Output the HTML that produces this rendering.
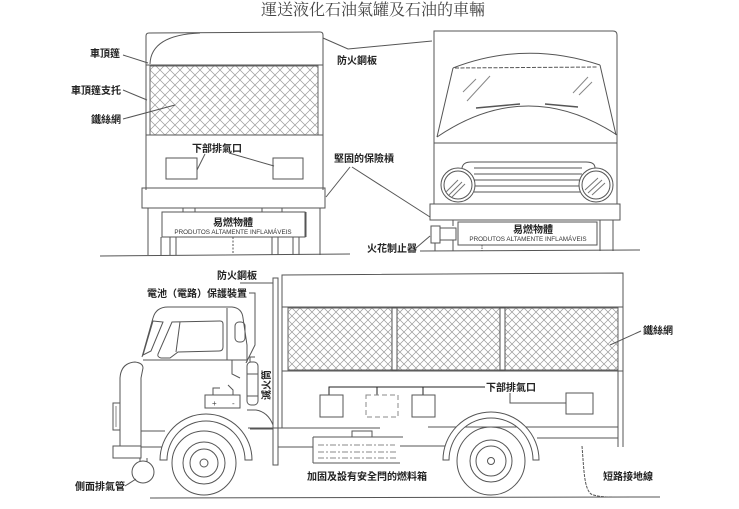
<!DOCTYPE html>
<html><head><meta charset="utf-8"><style>
html,body{margin:0;padding:0;background:#fff;}
svg{display:block;}
.l{fill:none;stroke:#555;stroke-width:1;}
.t{font-family:"Liberation Sans","Noto Sans CJK TC",sans-serif;font-weight:bold;font-size:10px;fill:#222;}
.s{font-family:"Liberation Sans",sans-serif;font-size:6.3px;fill:#333;}
</style></head><body>
<svg width="739" height="509" viewBox="0 0 739 509" xmlns="http://www.w3.org/2000/svg">
<defs>
<pattern id="m" width="10" height="10" patternUnits="userSpaceOnUse">
<path d="M0,0 L10,10 M10,0 L0,10 M-2,8 L2,12 M8,-2 L12,2 M-2,2 L2,-2 M8,12 L12,8" stroke="#9a9a9a" stroke-width="0.7" fill="none"/>
</pattern>
<pattern id="m2" width="8" height="8" patternUnits="userSpaceOnUse">
<path d="M0,0 L8,8 M8,0 L0,8 M-2,6 L2,10 M6,-2 L10,2 M-2,2 L2,-2 M6,10 L10,6" stroke="#9a9a9a" stroke-width="0.7" fill="none"/>
</pattern>
</defs>
<rect width="739" height="509" fill="#fff"/>

<!-- Title -->
<text x="373" y="15" text-anchor="middle" font-family="'Noto Serif CJK SC','Noto Serif CJK TC',serif" font-size="16" fill="#444">運送液化石油氣罐及石油的車輛</text>

<!-- ============ LEFT REAR VIEW ============ -->
<g class="l">
<path d="M146,190 L146,36 Q146,33 149,33 L320,32 Q323,32 323,35 L323,190"/>
<path d="M150,64 Q151,35 200,33"/>
<line x1="146" y1="65" x2="323" y2="65"/>
<rect x="150" y="66" width="168" height="69" fill="url(#m)" stroke="#666"/>
<line x1="146" y1="135" x2="323" y2="135"/>
<rect x="166" y="158" width="31" height="21"/>
<rect x="273" y="158" width="30" height="21"/>
<line x1="205" y1="154" x2="197" y2="170"/>
<line x1="229" y1="153" x2="274" y2="166"/>
<rect x="142" y="188" width="183" height="20"/>
<rect x="183" y="208" width="12" height="4"/>
<rect x="262" y="208" width="20" height="4"/>
<rect x="162" y="212" width="143" height="25"/>
<path d="M148,208 V255 M161,237 V255 M170,237 V255 M176,237 V255 M272,237 V255 M278,237 V255 M293,237 V255 M299,237 V255 M320,208 V255 M306,212 V237"/>
<line x1="233" y1="237" x2="233" y2="255" stroke-dasharray="2,1.5"/>
<line x1="100" y1="256" x2="350" y2="254"/>
<!-- leaders -->
<line x1="123" y1="55" x2="148" y2="63"/>
<line x1="123" y1="90" x2="147" y2="100"/>
<line x1="123" y1="119" x2="175" y2="105"/>
<polyline points="323,38 348,49 432,41"/>
<line x1="350" y1="167" x2="326" y2="197"/>
<line x1="352" y1="167" x2="430" y2="217"/>
</g>
<text class="t" x="120" y="57" text-anchor="end">車頂篷</text>
<text class="t" x="121" y="94" text-anchor="end">車頂篷支托</text>
<text class="t" x="121" y="123" text-anchor="end">鐵絲網</text>
<text class="t" x="217" y="152" text-anchor="middle">下部排氣口</text>
<text class="t" x="233" y="226" text-anchor="middle">易燃物體</text>
<text class="s" x="233" y="234" text-anchor="middle">PRODUTOS ALTAMENTE INFLAMÁVEIS</text>
<text class="t" x="337" y="64">防火鋼板</text>
<text class="t" x="334" y="162">堅固的保險槓</text>

<!-- ============ RIGHT FRONT VIEW ============ -->
<g class="l">
<path d="M434,204 L434,31 L613,31 Q617,31 617,35 L617,204"/>
<path d="M453,68 Q525,40 600,65"/>
<line x1="455" y1="68" x2="598" y2="67" stroke-dasharray="4,1.5"/>
<line x1="453" y1="68" x2="437" y2="137"/>
<line x1="600" y1="65" x2="616" y2="135"/>
<path d="M437,137 Q527,76 617,135"/>
<line x1="434" y1="143" x2="617" y2="143"/>
<path d="M476,108 L520,104 M545,104 L578,107" stroke-width="1.4"/>
<path d="M463,92 L476,79 M467,101 L490,76 M573,93 L588,77 M579,95 L592,82" stroke="#888"/>
<path d="M462,193 L462,168 Q463,162 471,162 L586,162 Q595,162 595,168 L595,193"/>
<path d="M474,168 H582 M474,174 H582 M474,180 H582 M474,186 H582 M474,192 H582"/>
<circle cx="458" cy="185" r="17" fill="#fff"/>
<circle cx="458" cy="185" r="14"/>
<circle cx="596" cy="185" r="17" fill="#fff"/>
<circle cx="596" cy="185" r="14"/>
<path d="M446,192 L458,180 M449,195 L462,182 M452,197 L465,184" stroke="#777"/>
<path d="M585,190 L598,178 M588,193 L602,180 M592,195 L605,183" stroke="#777"/>
<rect x="430" y="204" width="190" height="16"/>
<rect x="458" y="222" width="139" height="23"/>
<rect x="431" y="226" width="9" height="17"/>
<rect x="440" y="228" width="16" height="12"/>
<path d="M435,243 V251 M453,240 V251 M453,220 V226 M600,220 V251 M613,220 V251"/>
<line x1="482" y1="245" x2="482" y2="251" stroke-dasharray="1.5,1"/>
<line x1="420" y1="251" x2="640" y2="250"/>
<line x1="416" y1="248" x2="430" y2="236"/>
</g>
<text class="t" x="533" y="233" text-anchor="middle">易燃物體</text>
<text class="s" x="528" y="241" text-anchor="middle">PRODUTOS ALTAMENTE INFLAMÁVEIS</text>
<text class="t" x="367" y="252">火花制止器</text>

<!-- ============ SIDE VIEW ============ -->
<g class="l">
<rect x="273" y="278" width="5" height="187"/>
<line x1="240" y1="283" x2="273" y2="283"/>
<polyline points="249,293 255,293 255,345 246,363"/>
<path d="M282,428 L282,275 L623,273 L623,447"/>
<line x1="618" y1="307" x2="618" y2="447"/>
<rect x="288" y="308" width="330" height="62" fill="url(#m2)" stroke="#666"/>
<line x1="282" y1="307" x2="623" y2="307"/>
<line x1="282" y1="371" x2="623" y2="371"/>
<rect x="392" y="308" width="5" height="62" fill="#fff"/>
<rect x="500" y="308" width="5" height="62" fill="#fff"/>
<path d="M329,395 V387 H485 M377,387 V395 M423,387 V395" stroke="#222"/>
<polyline points="510,393 510,403 566,403"/>
<rect x="320" y="395" width="23" height="22"/>
<rect x="366" y="395" width="32" height="22" stroke-dasharray="5,3" stroke="#888"/>
<rect x="412" y="395" width="23" height="22"/>
<rect x="566" y="393" width="27" height="21"/>
<path d="M248,428 H380 M428,427 H618 M278,447 H313 M400,446 H445 M537,438 H618"/>
<path d="M313,437 H403 M313,437 V463 M313,463 H400 M352,437 V431 H372 V437" />
<path d="M318,445 H395 M318,452 H398 M318,458 H398" stroke="#888" stroke-dasharray="6,2,2,2"/>
<path d="M443,460 A48,48 0 0 1 539,460 L533,460 A42,42 0 0 0 449,460 Z" fill="#fff"/>
<circle cx="491" cy="461" r="34" fill="#fff"/>
<circle cx="491" cy="461" r="21"/>
<circle cx="491" cy="461" r="15"/>
<circle cx="491" cy="461" r="3.5"/>
<path d="M582,446 C584,470 584,488 591,494 Q597,497 612,497" stroke-dasharray="3,1"/>
<line x1="641" y1="331" x2="610" y2="345"/>
<line x1="150" y1="498" x2="660" y2="497"/>
<path d="M153,318 Q156,307 168,307 L232,307 Q242,308 243,318 L247,345 L247,362"/>
<line x1="153" y1="318" x2="142" y2="357"/>
<path d="M153,321 L163,322 L151,351 L143,355 Z"/>
<path d="M172,322 L220,321 Q223,321 223,324 L223,347 Q223,351 219,351 L178,352 L170,358 L161,358 Q157,357 158,354 Z"/>
<line x1="180" y1="322" x2="176" y2="352"/>
<line x1="227" y1="308" x2="227" y2="360"/>
<rect x="235" y="322" width="10" height="20" rx="4"/>
<line x1="143" y1="360" x2="247" y2="360"/>
<path d="M120,446 L120,378 Q121,363 135,362 Q143,363 143,368 L141,378 L141,446"/>
<path d="M232,360 V374 L240,378"/>
<rect x="113" y="403" width="7" height="27"/>
<path d="M116,406 V427" stroke="#888"/>
<path d="M141,431 H165 M250,429 H273"/>
<rect x="113" y="446" width="28" height="12"/>
<path d="M141,447 H162"/>
<path d="M140,458 V462 M147,458 V462"/>
<circle cx="143" cy="472" r="11" fill="#fff"/>
<line x1="125" y1="486" x2="136" y2="479"/>
<rect x="205" y="395" width="35" height="13"/>
<path d="M213,395 V388 H220 M233,395 V390 L228,385"/>
<rect x="247" y="362" width="11" height="43" rx="4"/>
<path d="M247,374 H258 M247,396 H258 M250,362 V357 H255"/>
<path d="M247,410 L256,410 Q268,412 273,425"/>
<path d="M160,460 A46,46 0 0 1 252,460 L245,460 A39,39 0 0 0 167,460 Z" fill="#fff"/>
<circle cx="204" cy="463" r="32" fill="#fff"/>
<circle cx="204" cy="463" r="21"/>
<circle cx="204" cy="463" r="14"/>
<circle cx="204" cy="463" r="4"/>
</g>
<text class="t" x="217" y="279">防火鋼板</text>
<text class="t" x="147" y="297">電池（電路）保護裝置</text>
<text class="t" x="0" y="0" text-anchor="middle" transform="translate(270,385) rotate(-90)">滅火筒</text>
<text x="212" y="406" font-family="Liberation Sans" font-size="8" fill="#444">+</text>
<text x="232" y="406" font-family="Liberation Sans" font-size="8" fill="#444">-</text>
<text class="t" x="486" y="391">下部排氣口</text>
<text class="t" x="643" y="334">鐵絲網</text>
<text class="t" x="307" y="480">加固及設有安全閂的燃料箱</text>
<text class="t" x="603" y="480">短路接地線</text>
<text class="t" x="75" y="490">側面排氣管</text>
</svg>
</body></html>
